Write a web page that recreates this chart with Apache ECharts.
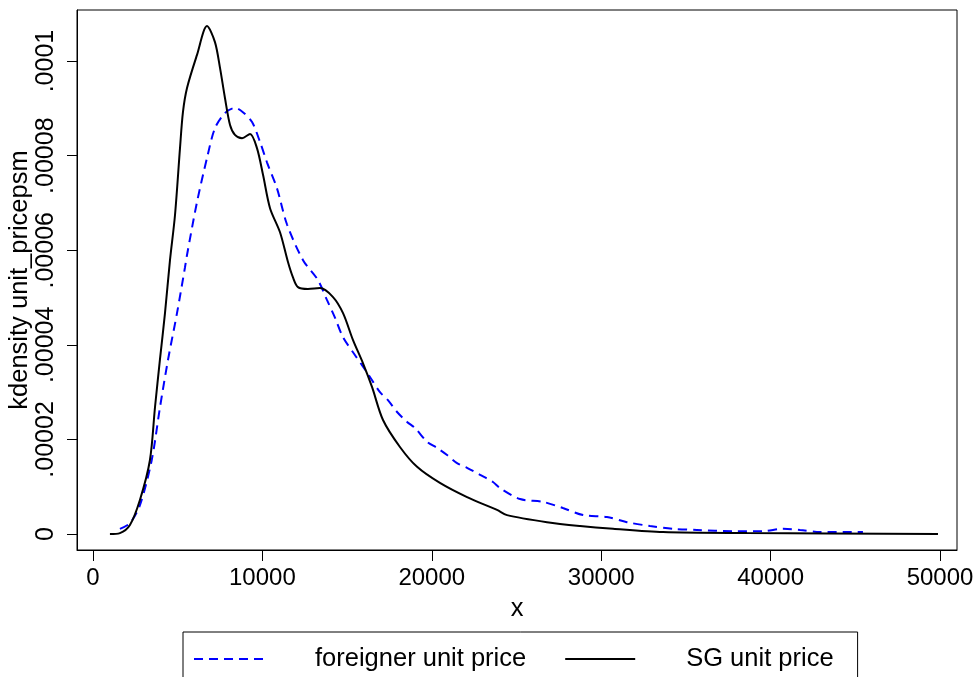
<!DOCTYPE html>
<html>
<head>
<meta charset="utf-8">
<script src="https://cdn.jsdelivr.net/npm/echarts@6/dist/echarts.min.js"></script>
<style>
  html, body { margin: 0; padding: 0; background: #fff; }
  #chart { width: 979px; height: 677px; }
</style>
</head>
<body>
<div id="chart"></div>
<script>
// kdensity of unit price per sqm
const fgX = [1590, 2180, 2770, 3465, 3955, 4427, 4959, 5431, 5550, 6140, 6730, 7200, 7790, 8380,
  8850, 9390, 9860, 10270, 10860, 11450, 12400, 13280, 13810, 14290, 14760, 15470, 15880, 16350,
  16940, 17410, 17950, 18540, 19010, 19720, 20310, 20900, 21490, 22080, 22850, 23610, 24030,
  25210, 26560, 27740, 28930, 30340, 31520, 32880, 34240, 35650, 37780, 39550, 40730, 41740,
  42920, 45450]
const fgY = [1.1e-6, 2.3e-6, 6.1e-6, 15.6e-6, 26.8e-6, 36.8e-6, 46.7e-6, 56.4e-6, 59.0e-6, 70.2e-6,
  79.5e-6, 85.8e-6, 89.0e-6, 90.1e-6, 89.2e-6, 87.1e-6, 82.9e-6, 78.6e-6, 73.1e-6, 65.5e-6,
  57.9e-6, 53.7e-6, 49.5e-6, 45.7e-6, 41.6e-6, 37.8e-6, 35.7e-6, 33.2e-6, 30.0e-6, 28.3e-6,
  25.8e-6, 23.7e-6, 22.4e-6, 19.5e-6, 18.2e-6, 16.7e-6, 15.0e-6, 14.0e-6, 12.5e-6, 11.0e-6,
  9.7e-6, 7.4e-6, 6.8e-6, 5.5e-6, 4.0e-6, 3.6e-6, 2.5e-6, 1.7e-6, 1.1e-6, 0.85e-6, 0.6e-6,
  0.6e-6, 1.1e-6, 0.85e-6, 0.4e-6, 0.4e-6]

const sgX = [1000, 1590, 2180, 2770, 3360, 3660, 3950, 4250, 4545, 4840, 5136, 5310, 5550, 6140,
  6730, 7200, 7500, 7790, 8090, 8380, 8800, 9270, 9680, 10040, 10450, 11040, 11510, 11800, 12100,
  12690, 13400, 14170, 14760, 15350, 15940, 16470, 17120, 18120, 19130, 20480, 22080, 23850,
  24440, 26800, 28750, 30700, 33650, 38600, 49880]
const sgY = [0, 0.2e-6, 1.9e-6, 7.2e-6, 15.6e-6, 26.8e-6, 36.8e-6, 46.7e-6, 57.9e-6, 67.4e-6,
  81.6e-6, 89.2e-6, 94.3e-6, 101.3e-6, 107.4e-6, 104.0e-6, 98.5e-6, 92.2e-6, 86.5e-6, 84.4e-6,
  83.7e-6, 84.6e-6, 81.6e-6, 75.9e-6, 68.9e-6, 63.8e-6, 57.5e-6, 54.3e-6, 52.2e-6, 51.8e-6,
  52.0e-6, 50.1e-6, 46.7e-6, 41.0e-6, 36.1e-6, 31.1e-6, 24.1e-6, 18.4e-6, 14.2e-6, 10.8e-6,
  7.8e-6, 5.1e-6, 4.0e-6, 2.5e-6, 1.7e-6, 1.1e-6, 0.4e-6, 0.2e-6, 0]

const xTicks = [0, 10000, 20000, 30000, 40000, 50000]
const yTicks = [0, 0.00002, 0.00004, 0.00006, 0.00008, 0.0001]
const yTickLabels = ['0', '.00002', '.00004', '.00006', '.00008', '.0001']

const seriesNames = ['foreigner unit price', 'SG unit price']

const font = "'Liberation Sans', Arial, sans-serif"

const toPairs = (xs, ys) => xs.map((x, i) => [x, ys[i]])

const chart = echarts.init(document.getElementById('chart'))

const option = {
  animation: false,
  backgroundColor: '#fff',
  grid: {
    left: 77,
    right: 22,
    top: 10,
    bottom: 127,
    outerBoundsMode: 'none',
    containLabel: false,
    show: true,
    borderColor: '#000',
    borderWidth: 1
  },
  legend: {
    data: seriesNames,
    left: 183,
    top: 632,
    orient: 'horizontal',
    itemWidth: 70,
    itemHeight: 14,
    itemGap: 38,
    padding: [14, 24, 14, 10],
    borderColor: '#000',
    borderWidth: 1,
    itemStyle: { opacity: 0 },
    textStyle: {
      fontFamily: font,
      fontSize: 25.5,
      color: '#000',
      padding: [0, 0, 0, 46]
    }
  },
  xAxis: {
    type: 'value',
    min: -944,
    max: 51003,
    name: 'x',
    nameLocation: 'middle',
    nameGap: 46,
    nameMoveOverlap: false,
    nameTextStyle: { fontFamily: font, fontSize: 25.5, color: '#000' },
    splitLine: { show: false },
    axisLine: { show: true, onZero: false, lineStyle: { color: '#000', width: 1 } },
    axisTick: { show: true, customValues: xTicks, length: 11, lineStyle: { color: '#000' } },
    axisLabel: {
      customValues: xTicks,
      fontFamily: font,
      fontSize: 24,
      color: '#000',
      margin: 16,
      formatter: v => String(v)
    }
  },
  yAxis: {
    type: 'value',
    min: -0.00000338,
    max: 0.0001108,
    name: 'kdensity unit_pricepsm',
    nameLocation: 'middle',
    nameGap: 44,
    nameMoveOverlap: false,
    nameTextStyle: { fontFamily: font, fontSize: 25.5, color: '#000' },
    splitLine: { show: false },
    axisLine: { show: true, onZero: false, lineStyle: { color: '#000', width: 1 } },
    axisTick: { show: true, customValues: yTicks, length: 10, lineStyle: { color: '#000' } },
    axisLabel: {
      customValues: yTicks,
      rotate: 90,
      fontFamily: font,
      fontSize: 25,
      color: '#000',
      margin: 18,
      formatter: v => {
        const i = yTicks.findIndex(t => Math.abs(t - v) < 1e-9)
        return i >= 0 ? yTickLabels[i] : ''
      }
    }
  },
  series: [
    {
      name: seriesNames[0],
      type: 'line',
      data: toPairs(fgX, fgY),
      showSymbol: false,
      symbol: 'none',
      smooth: 0.3,
      lineStyle: { color: '#0000ff', width: 2, type: [9, 6] },
      itemStyle: { color: '#0000ff' }
    },
    {
      name: seriesNames[1],
      type: 'line',
      data: toPairs(sgX, sgY),
      showSymbol: false,
      symbol: 'none',
      smooth: 0.3,
      lineStyle: { color: '#000', width: 2 },
      itemStyle: { color: '#000' }
    }
  ]
}

chart.setOption(option)
</script>
</body>
</html>
